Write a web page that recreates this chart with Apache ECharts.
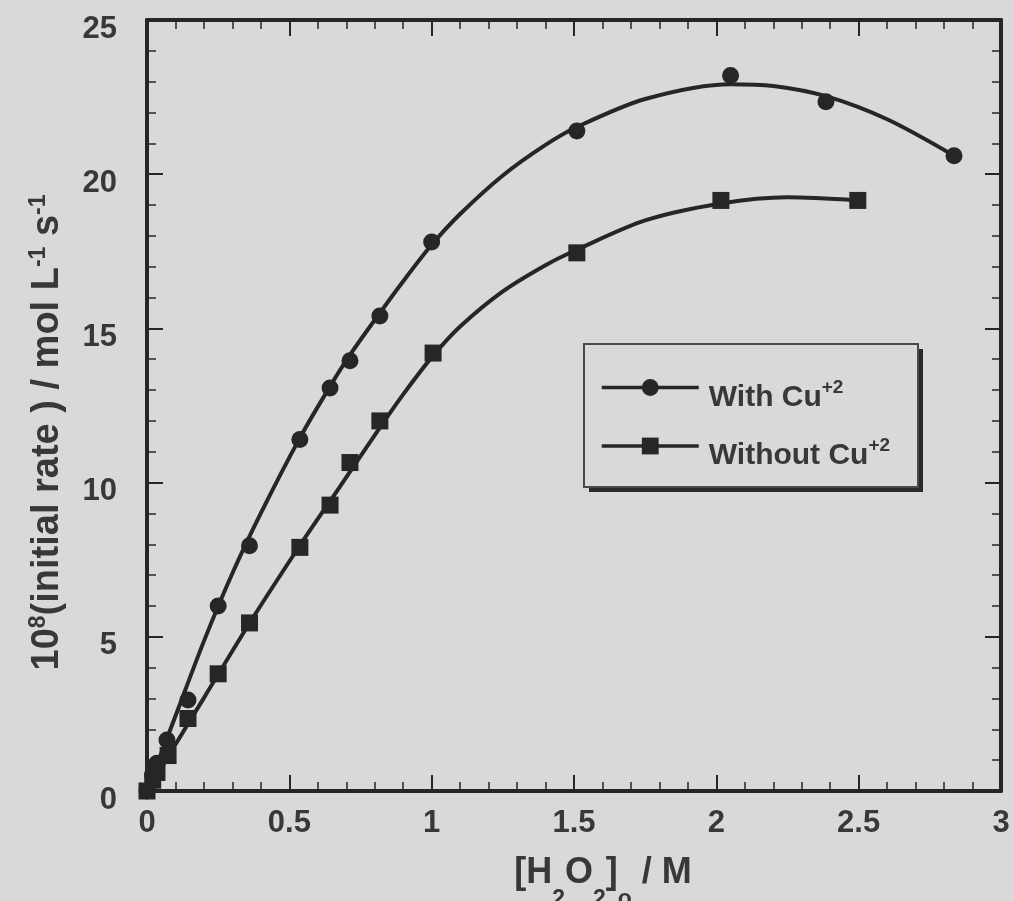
<!DOCTYPE html>
<html>
<head>
<meta charset="utf-8">
<title>Initial rate vs [H2O2]o</title>
<script src="https://cdn.jsdelivr.net/npm/echarts@6/dist/echarts.min.js"></script>
<style>
  html, body { margin: 0; padding: 0; background: #d9d9d9; }
  #chart { width: 1014px; height: 901px; }
</style>
</head>
<body>
<div id="chart"></div>
<script>
// Measured points: [H2O2]o (M) and 10^8 x initial rate (mol L^-1 s^-1)
const withCuX    = [0, 0.02, 0.035, 0.07, 0.144, 0.25, 0.36, 0.537, 0.643, 0.713, 0.818, 1.0, 1.51, 2.05, 2.385, 2.835];
const withCuY    = [0, 0.5, 0.9, 1.65, 2.95, 6.0, 7.95, 11.4, 13.07, 13.95, 15.4, 17.8, 21.4, 23.2, 22.35, 20.6];
const withoutCuX = [0, 0.02, 0.035, 0.074, 0.144, 0.25, 0.36, 0.537, 0.643, 0.713, 0.818, 1.005, 1.51, 2.016, 2.497];
const withoutCuY = [0, 0.35, 0.6, 1.15, 2.35, 3.8, 5.45, 7.9, 9.27, 10.65, 12.0, 14.2, 17.45, 19.15, 19.15];

// Fitted trend curves drawn through the points
const withCuFitX    = [0, 0.1, 0.2, 0.3, 0.4, 0.537, 0.643, 0.713, 0.818, 0.9, 1.0, 1.1, 1.25, 1.4, 1.51, 1.75, 2.05, 2.2, 2.385, 2.6, 2.835];
const withCuFitY    = [0, 2.43, 4.86, 7.06, 9.01, 11.45, 13.12, 14.14, 15.5, 16.53, 17.71, 18.71, 19.96, 20.95, 21.53, 22.44, 22.92, 22.86, 22.53, 21.78, 20.6];
const withoutCuFitX = [0, 0.1, 0.2, 0.36, 0.537, 0.66, 0.818, 0.9, 1.0, 1.1, 1.25, 1.4, 1.51, 1.75, 2.016, 2.25, 2.497];
const withoutCuFitY = [0, 1.51, 3.02, 5.44, 7.96, 9.63, 11.78, 12.86, 14.06, 15.06, 16.2, 17.05, 17.55, 18.5, 19.05, 19.25, 19.15];

const xTicks = { min: 0, max: 3, interval: 0.5 };
const yTicks = { min: 0, max: 25, interval: 5 };

const seriesNames = ['With Cu', 'Without Cu'];

const ink = '#262626';
const textInk = '#383838';
const bg = '#d9d9d9';
const font = 'Liberation Sans';

const pairs = (xs, ys) => xs.map((x, i) => [x, ys[i]]);

const frameAxis = {
  axisLine: { show: true, onZero: false, lineStyle: { color: ink, width: 4 } },
  axisTick: { show: true, inside: true, length: 16, lineStyle: { color: ink, width: 2 } },
  minorTick: { show: true, splitNumber: 5, length: 9, lineStyle: { color: ink, width: 1.5 } },
  splitLine: { show: false },
  minorSplitLine: { show: false }
};

const chart = echarts.init(document.getElementById('chart'), null, { renderer: 'canvas' });

chart.setOption({
  backgroundColor: bg,
  animation: false,
  grid: { left: 147, right: 13, top: 20, bottom: 110, containLabel: false, outerBoundsMode: 'none' },
  xAxis: [
    Object.assign({
      type: 'value', position: 'bottom',
      min: xTicks.min, max: xTicks.max, interval: xTicks.interval,
      axisLabel: {
        show: true, margin: 17, color: textInk, fontFamily: font, fontWeight: 'bold', fontSize: 31,
        formatter: v => String(v)
      },
      name: '{m|[H}{b|2}{m|O}{b|2}{m|]}{b|o}{m| / M}',
      nameLocation: 'middle',
      nameGap: 64,
      nameTextStyle: {
        padding: [0, 0, 0, 58],
        rich: {
          m: { fontFamily: font, fontWeight: 'bold', fontSize: 36, color: textInk, lineHeight: 36, verticalAlign: 'top' },
          b: { fontFamily: font, fontWeight: 'bold', fontSize: 23, color: textInk, lineHeight: 56, verticalAlign: 'bottom' }
        }
      }
    }, frameAxis),
    Object.assign({
      type: 'value', position: 'top',
      min: xTicks.min, max: xTicks.max, interval: xTicks.interval,
      axisLabel: { show: false }
    }, frameAxis)
  ],
  yAxis: [
    Object.assign({
      type: 'value', position: 'left',
      min: yTicks.min, max: yTicks.max, interval: yTicks.interval,
      axisLabel: {
        show: true, margin: 30, color: textInk, fontFamily: font, fontWeight: 'bold', fontSize: 31,
        verticalAlign: 'top', lineHeight: 18
      },
      name: '{m|10}{s|8}{m|(initial rate ) / mol L}{s|-1}{m| s}{s|-1}',
      nameLocation: 'middle',
      nameRotate: 90,
      nameGap: 80,
      nameTextStyle: {
        padding: [0, 54, 0, 0],
        rich: {
          m: { fontFamily: font, fontWeight: 'bold', fontSize: 38, color: textInk, lineHeight: 40, verticalAlign: 'bottom' },
          s: { fontFamily: font, fontWeight: 'bold', fontSize: 23, color: textInk, lineHeight: 23, verticalAlign: 'top' }
        }
      }
    }, frameAxis),
    Object.assign({
      type: 'value', position: 'right',
      min: yTicks.min, max: yTicks.max, interval: yTicks.interval,
      axisLabel: { show: false }
    }, frameAxis)
  ],
  legend: {
    show: true,
    orient: 'vertical',
    left: 600, top: 378,
    padding: 0,
    itemGap: 24,
    itemWidth: 97,
    itemHeight: 21,
    data: seriesNames,
    lineStyle: { color: ink, width: 3.5 },
    itemStyle: { color: ink },
    formatter: name => '{m|' + name + '}{s|+2}',
    textStyle: {
      padding: [0, 0, 0, 5],
      rich: {
        m: { fontFamily: font, fontWeight: 'bold', fontSize: 30, color: textInk, lineHeight: 30, verticalAlign: 'bottom' },
        s: { fontFamily: font, fontWeight: 'bold', fontSize: 19, color: textInk, lineHeight: 50 }
      }
    }
  },
  graphic: [
    {
      type: 'rect', z: -2,
      shape: { x: 589, y: 349, width: 334, height: 143 },
      style: { fill: '#2a2a2a' }
    },
    {
      type: 'rect', z: -1,
      shape: { x: 584, y: 344, width: 334, height: 143 },
      style: { fill: bg, stroke: '#4a4a4a', lineWidth: 2 }
    }
  ],
  series: [
    {
      name: seriesNames[0],
      type: 'line',
      data: pairs(withCuFitX, withCuFitY),
      smooth: 0.3,
      symbol: 'circle',
      showSymbol: false,
      clip: false,
      itemStyle: { color: ink },
      lineStyle: { color: ink, width: 4 },
      z: 2
    },
    {
      name: seriesNames[1],
      type: 'line',
      data: pairs(withoutCuFitX, withoutCuFitY),
      smooth: 0.3,
      symbol: 'rect',
      showSymbol: false,
      clip: false,
      itemStyle: { color: ink },
      lineStyle: { color: ink, width: 4 },
      z: 2
    },
    {
      name: seriesNames[0],
      type: 'scatter',
      data: pairs(withCuX, withCuY),
      symbol: 'circle',
      symbolSize: 17,
      clip: false,
      itemStyle: { color: ink, opacity: 1 },
      z: 3
    },
    {
      name: seriesNames[1],
      type: 'scatter',
      data: pairs(withoutCuX, withoutCuY),
      symbol: 'rect',
      symbolSize: 17,
      clip: false,
      itemStyle: { color: ink, opacity: 1 },
      z: 3
    }
  ]
});
</script>
</body>
</html>
